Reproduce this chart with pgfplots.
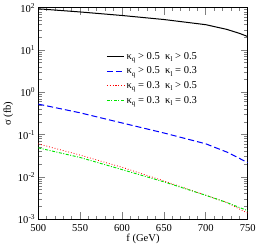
\documentclass[border=0pt]{standalone}
\usepackage{fontspec}
\setmainfont{Liberation Serif}
\usepackage{pgfplots}
\pgfplotsset{compat=1.18}
\newcommand{\sub}[1]{\raisebox{-0.45ex}{\scriptsize #1}}
\begin{document}
\begin{tikzpicture}
\begin{axis}[
  width=208pt, height=210pt, scale only axis,
  xmin=500, xmax=750, ymode=log, ymin=1e-3, ymax=1e2,
  xtick={500,550,...,750}, minor x tick num=4,
  ytick={1e-3,1e-2,1e-1,1,10,100},
  yticklabels={10\textsuperscript{-3},10\textsuperscript{-2},10\textsuperscript{-1},10\textsuperscript{0},10\textsuperscript{1},10\textsuperscript{2}},
  xticklabel style={font=\fontsize{10.5}{12}\selectfont, yshift=-1.5pt},
  yticklabel style={font=\fontsize{10.5}{12}\selectfont, xshift=0.5pt},
  /pgf/number format/assume math mode=true,
  /pgf/number format/set thousands separator={},
  tick align=inside, major tick length=7pt, minor tick length=3.5pt,
  axis line style={line width=1pt}, tick style={line width=0.8pt},
  xlabel={f (GeV)}, ylabel={σ (fb)},
  label style={font=\fontsize{10.5}{12}\selectfont},
  xlabel style={yshift=4pt}, ylabel style={yshift=-2pt},
  legend style={draw=none, fill=none, at={(0.31,0.81)}, anchor=north west, font=\fontsize{10.5}{12}\selectfont, row sep=2pt},
  legend cell align=left,
]
\addplot[black, line width=1pt] coordinates {(500,95) (550,80) (600,66) (650,53) (700,40) (725,31) (740,25) (750,21)};
\addlegendentry{κ\sub{q} > 0.5\ \ κ\sub{l} > 0.5}
\addplot[blue, line width=1pt, dash pattern=on 6pt off 3pt] coordinates {(500,0.53) (550,0.33) (600,0.19) (650,0.11) (700,0.061) (725,0.039) (750,0.022)};
\addlegendentry{κ\sub{q} > 0.5\ \ κ\sub{l} = 0.3}
\addplot[red, line width=0.8pt, dotted] coordinates {(500,0.061) (550,0.033) (600,0.017) (650,0.0081) (700,0.0037) (725,0.0025) (750,0.0014)};
\addlegendentry{κ\sub{q} = 0.3\ \ κ\sub{l} > 0.5}
\addplot[green!90!black, line width=0.9pt, dash pattern=on 3pt off 1.5pt on 1pt off 1.5pt] coordinates {(500,0.049) (550,0.029) (600,0.015) (650,0.0077) (700,0.0037) (725,0.0025) (750,0.0016)};
\addlegendentry{κ\sub{q} = 0.3\ \ κ\sub{l} = 0.3}
\end{axis}
\end{tikzpicture}
\end{document}
